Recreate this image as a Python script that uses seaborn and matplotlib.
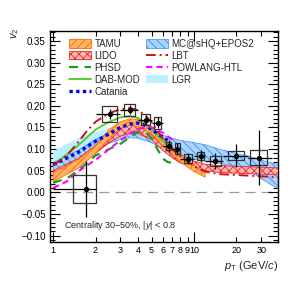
import numpy as np
import pandas as pd
import seaborn as sns
import matplotlib.pyplot as plt
from matplotlib.patches import Patch, Rectangle
from matplotlib.lines import Line2D
from matplotlib.ticker import MultipleLocator, FixedLocator, FixedFormatter, FuncFormatter

# measured D-meson v2 (30-50%)
pt = [1.71, 2.54, 3.52, 4.55, 5.55, 6.6, 7.6, 9.1, 11.2, 14.2, 20.0, 29.0]
v2 = [0.008, 0.181, 0.191, 0.168, 0.161, 0.107, 0.101, 0.078, 0.084, 0.072, 0.085, 0.080]
stat = [0.065, 0.012, 0.011, 0.011, 0.012, 0.014, 0.014, 0.013, 0.013, 0.018, 0.026, 0.063]
syst = [0.033, 0.018, 0.014, 0.013, 0.014, 0.010, 0.013, 0.011, 0.010, 0.011, 0.011, 0.017]
pt_lo = [1, 2, 3, 4, 5, 6, 7, 8, 10, 12, 16, 24]
pt_hi = [2, 3, 4, 5, 6, 7, 8, 10, 12, 16, 24, 36]

# model bands
tamu_pt = [1, 1.5, 2, 2.5, 3, 3.5, 4, 5, 6, 7, 8, 10, 12]
tamu_lo = [0.025, 0.055, 0.09, 0.125, 0.148, 0.155, 0.152, 0.135, 0.108, 0.088, 0.07, 0.048, 0.035]
tamu_hi = [0.045, 0.075, 0.108, 0.145, 0.163, 0.170, 0.168, 0.152, 0.125, 0.103, 0.085, 0.062, 0.046]

lido_pt = [1, 1.5, 2, 2.5, 3, 3.5, 4, 5, 6, 7, 8, 10, 12, 15, 20, 30, 40]
lido_lo = [0.035, 0.06, 0.09, 0.115, 0.13, 0.137, 0.136, 0.122, 0.097, 0.08, 0.068, 0.057, 0.05, 0.046, 0.044, 0.042, 0.04]
lido_hi = [0.05, 0.078, 0.108, 0.133, 0.148, 0.155, 0.155, 0.14, 0.12, 0.1, 0.088, 0.072, 0.065, 0.062, 0.06, 0.058, 0.056]

mc_pt = [1, 1.5, 2, 2.5, 3, 3.5, 4, 5, 6, 7, 8, 10, 12, 15, 20, 25, 30, 35, 40]
mc_lo = [0.048, 0.072, 0.097, 0.113, 0.122, 0.126, 0.125, 0.115, 0.1, 0.09, 0.085, 0.077, 0.072, 0.067, 0.06, 0.048, 0.032, 0.018, 0.008]
mc_hi = [0.068, 0.097, 0.122, 0.138, 0.148, 0.152, 0.15, 0.14, 0.132, 0.125, 0.12, 0.115, 0.11, 0.1, 0.09, 0.082, 0.075, 0.068, 0.064]

lgr_pt = [1, 1.5, 2, 2.5, 3, 3.5, 4, 5, 6, 7, 8, 10]
lgr_lo = [0.062, 0.085, 0.105, 0.118, 0.125, 0.127, 0.125, 0.115, 0.1, 0.09, 0.082, 0.072]
lgr_hi = [0.095, 0.125, 0.14, 0.147, 0.15, 0.15, 0.147, 0.135, 0.118, 0.105, 0.095, 0.085]

# model curves
phsd_pt = [1, 1.25, 1.5, 1.75, 2, 2.5, 3, 3.5, 4, 4.5, 5, 5.5, 6, 6.5, 7]
phsd_v2 = [0.022, 0.032, 0.05, 0.068, 0.085, 0.1, 0.112, 0.127, 0.14, 0.14, 0.125, 0.1, 0.078, 0.07, 0.068]

dab_pt = [1, 1.5, 2, 2.5, 3, 3.5, 4, 4.5, 5, 6, 7, 8]
dab_v2 = [0.063, 0.108, 0.145, 0.163, 0.173, 0.176, 0.172, 0.16, 0.145, 0.118, 0.1, 0.09]

cat_pt = [1, 1.5, 2, 2.5, 3, 3.5, 4, 4.5, 5, 6, 6.5]
cat_v2 = [0.064, 0.092, 0.118, 0.135, 0.15, 0.158, 0.16, 0.155, 0.145, 0.128, 0.12]

lbt_pt = [1, 1.25, 1.5, 1.75, 2, 2.5, 3, 3.5, 4, 4.5, 5, 6, 7, 8, 10, 12, 15, 20, 30, 40]
lbt_v2 = [0.062, 0.085, 0.115, 0.143, 0.163, 0.183, 0.192, 0.195, 0.19, 0.178, 0.162, 0.125, 0.1, 0.083, 0.06, 0.048, 0.042, 0.04, 0.037, 0.034]

pow_pt = [1, 1.25, 1.5, 2, 2.5, 3, 3.5, 4, 4.5, 5, 6, 7]
pow_v2 = [0.01, 0.025, 0.048, 0.075, 0.1, 0.12, 0.135, 0.146, 0.15, 0.15, 0.138, 0.122]

sns.set_theme(style="ticks")
plt.rcParams['font.family'] = ['Liberation Sans', 'DejaVu Sans']
plt.rcParams['mathtext.fontset'] = 'custom'
plt.rcParams['mathtext.rm'] = 'Liberation Sans'
plt.rcParams['mathtext.it'] = 'Liberation Sans:italic'
plt.rcParams['hatch.linewidth'] = 0.6

fig = plt.figure(figsize=(2.99, 2.88), dpi=100)
ax = fig.add_axes([50/299, 46/288, 228/299, 211/288])
ax.set_xscale('log')

# bands
c_lgr = '#b8f0ff'
ax.fill_between(lgr_pt, lgr_lo, lgr_hi, facecolor=c_lgr, edgecolor='none', zorder=1)
ax.fill_between(mc_pt, mc_lo, mc_hi, facecolor='#a8d4ff', edgecolor='#3c8cf0',
                hatch='\\\\\\\\', linewidth=0.5, zorder=2)
ax.fill_between(lido_pt, lido_lo, lido_hi, facecolor='#ffb8b8', edgecolor='#ee2222',
                hatch='xxxx', linewidth=0.6, zorder=3)
ax.fill_between(tamu_pt, tamu_lo, tamu_hi, facecolor='#ffb366', edgecolor='#ff6a00',
                hatch='////', linewidth=0.6, zorder=4)

# curves
sns.lineplot(x=phsd_pt, y=phsd_v2, ax=ax, color='#1a9e1a', linestyle=(0, (4, 3)), linewidth=1.6, zorder=5)
sns.lineplot(x=dab_pt, y=dab_v2, ax=ax, color='#5ec832', linestyle='-', linewidth=1.4, zorder=5)
sns.lineplot(x=cat_pt, y=cat_v2, ax=ax, color='#0000ee', linestyle=(0, (1, 1)), linewidth=2.4, zorder=5)
sns.lineplot(x=lbt_pt, y=lbt_v2, ax=ax, color='#cc1111', linestyle=(0, (5, 2, 1, 2)), linewidth=1.4, zorder=5)
sns.lineplot(x=pow_pt, y=pow_v2, ax=ax, color='#ff00ff', linestyle=(0, (3, 2)), linewidth=1.5, zorder=5)

ax.axhline(0, color='#999999', linestyle=(0, (8, 5)), linewidth=0.9, zorder=0)

# data: boxes for syst, bars for stat
for x, y, s, sy, lo, hi in zip(pt, v2, stat, syst, pt_lo, pt_hi):
    hw = 0.32 * (hi - lo)
    ax.add_patch(Rectangle((x - hw, y - sy), 2 * hw, 2 * sy, fill=False,
                           edgecolor='#333333', linewidth=0.9, zorder=6))
ax.errorbar(pt, v2, yerr=stat,
            xerr=[np.array(pt) - np.array(pt_lo), np.array(pt_hi) - np.array(pt)],
            fmt='o', color='black', markersize=2.8, elinewidth=0.9, capsize=0, zorder=7)

ax.set_xlim(0.95, 39.5)
ax.set_ylim(-0.115, 0.373)

# ticks
ax.yaxis.set_major_locator(MultipleLocator(0.05))
ax.yaxis.set_minor_locator(MultipleLocator(0.01))
ax.yaxis.set_major_formatter(FuncFormatter(lambda v, p: f'{v:.2f}'.replace('-', '\u2212') if abs(v) > 1e-9 else '0.00'))
ax.xaxis.set_major_locator(FixedLocator([1, 10]))
ax.xaxis.set_major_formatter(FixedFormatter(['1', '10']))
minor_x = [2, 3, 4, 5, 6, 7, 8, 9, 20, 30]
ax.xaxis.set_minor_locator(FixedLocator(minor_x))
ax.xaxis.set_minor_formatter(FixedFormatter([str(m) for m in minor_x]))
ax.tick_params(which='both', direction='in', top=True, right=True, labelsize=7, pad=3, colors='black')
ax.tick_params(axis='x', which='both', labelsize=6.5)
ax.tick_params(which='major', length=7, width=0.8)
ax.tick_params(which='minor', length=3.5, width=0.8)
for sp in ax.spines.values():
    sp.set_linewidth(1.0)
    sp.set_color('black')

ax.set_xlabel('')
ax.set_ylabel('')
fig.text(15/299, 1 - 28/288, r'$v_{2}$', rotation=90, ha='center', va='top', fontsize=8)
fig.text(278/299, 1 - 266/288, r'$p_{\rm T}$ (GeV/$c$)', ha='right', va='center', fontsize=8)
ax.text(0.061, 0.08, r'Centrality 30$-$50%, |$y$| < 0.8', transform=ax.transAxes,
        ha='left', va='center', fontsize=6.5)

handles = [
    Patch(facecolor='#ffb366', edgecolor='#ff6a00', hatch='////', linewidth=0.6),
    Patch(facecolor='#ffb8b8', edgecolor='#ee2222', hatch='xxxx', linewidth=0.6),
    Line2D([], [], color='#1a9e1a', linestyle=(0, (4, 3)), linewidth=1.6),
    Line2D([], [], color='#5ec832', linewidth=1.4),
    Line2D([], [], color='#0000ee', linestyle=(0, (1, 1)), linewidth=2.4),
    Patch(facecolor='#a8d4ff', edgecolor='#3c8cf0', hatch='\\\\\\\\', linewidth=0.5),
    Line2D([], [], color='#cc1111', linestyle=(0, (5, 2, 1, 2)), linewidth=1.4),
    Line2D([], [], color='#ff00ff', linestyle=(0, (3, 2)), linewidth=1.5),
    Patch(facecolor=c_lgr, edgecolor='none'),
]
labels = ['TAMU', 'LIDO', 'PHSD', 'DAB-MOD', 'Catania',
          'MC@sHQ+EPOS2', 'LBT', 'POWLANG-HTL', 'LGR']
ax.legend(handles, labels, ncol=2, loc='upper left', bbox_to_anchor=(0.055, 0.995),
          frameon=False, fontsize=7, handlelength=2.2, handleheight=0.9,
          handletextpad=0.4, labelspacing=0.2, columnspacing=0.6, borderpad=0.2)

fig.savefig('out.png', dpi=100)
